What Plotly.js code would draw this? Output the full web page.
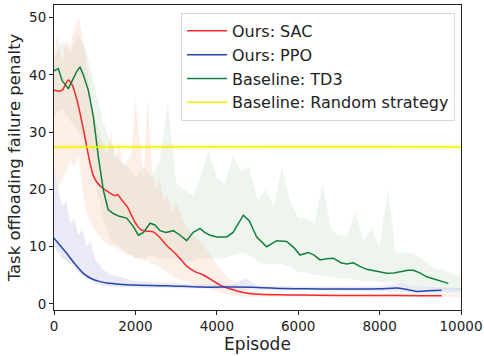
<!DOCTYPE html>
<html>
<head>
<meta charset="utf-8">
<script src="https://cdn.plot.ly/plotly-3.0.1.min.js"></script>
<style>html,body{margin:0;padding:0;background:#fff;}#chart{width:484px;height:356px;}</style>
</head>
<body>
<div id="chart"></div>
<script>
// ---- Data ----
const seriesNames = ["Ours: SAC", "Ours: PPO", "Baseline: TD3", "Baseline: Random strategy"];
const xTickVals = [0,2000,4000,6000,8000,10000];
const xTickText = ["0","2000","4000","6000","8000","10000"];
const yTickVals = [0,10,20,30,40,50];

// Smoothed curves
const sacX = [0,100,200,350,450,550,640,750,870,960,1050,1200,1350,1500,1560,1650,1800,1950,2050,2150,2300,2440,2600,2770,3000,3260,3450,3670,3850,4080,4300,4570,4800,5060,5500,6000,7000,8000,9000,9525];
const sacY = [37.3,37.2,37.3,39.1,38.2,36,33.3,29.5,25.1,22.5,21.3,20.2,19.5,18.9,19.1,18.3,17,14.8,13.6,12.9,12.7,12.6,11.6,10.2,8.7,6.6,5.7,5.06,4.3,3.3,2.7,2.15,1.85,1.7,1.6,1.55,1.5,1.5,1.45,1.45];

const ppoX = [0,150,311,500,721,900,1130,1300,1540,1949,2768,3588,4406,5000,5635,6200,6863,7500,8000,8445,8700,8896,9200,9525];
const ppoY = [11.5,10.2,8.85,7.1,5.35,4.5,3.9,3.65,3.5,3.3,3.2,2.95,2.95,2.9,2.7,2.65,2.6,2.6,2.65,2.8,2.5,2.2,2.3,2.4];

const td3X = [0,106,200,352,450,550,639,720,844,967,1090,1212,1330,1458,1600,1785,1950,2072,2200,2359,2480,2604,2750,2932,3100,3260,3420,3587,3700,3833,4000,4243,4400,4520,4652,4800,4980,5225,5350,5471,5717,5900,6044,6249,6400,6535,6700,6863,7050,7191,7355,7500,7682,7900,8174,8350,8501,8700,8829,9000,9156,9400,9689];
const td3Y = [40.7,41.1,39,37.6,39,40.5,41.4,40,37.3,32.7,25.7,19.9,16.5,15.8,15.3,15.0,13.5,12.0,12.5,14.1,13.8,12.8,12.5,12.8,12,11.05,12.5,13.2,12.5,12.0,11.7,11.7,12.5,14,15.5,14.5,11.7,10.0,10.5,11.05,10.9,9.8,8.55,9.0,8.5,7.7,7.9,8.0,7.2,7.0,7.2,6.6,6.05,5.7,5.35,5.4,5.6,5.9,5.9,5.4,4.75,4.2,3.6];

const randX = [0,2000,4000,6000,8000,10000];
const randY = [27.4,27.45,27.5,27.45,27.45,27.4];

// Raw-episode spread (envelopes of the light background noise)
const sacBandX = [0,100,200,300,400,500,600,700,800,900,1000,1100,1200,1300,1400,1500,1600,1700,1800,1900,2000,2100,2200,2300,2400,2500,2600,2700,2800,2900,3000,3200,3400,3600,3800,4000,4200,4400,4600,4800,5000,6000,7000,8000,9000,10000];
const sacUpper = [44,47,42,46,45,48,50,47,42,36,33,30,28,26,30,25,28,24,25,26,36,29,22,36,24,20,22,18,19,16,18,14,12,11,9,7,5,4,3,2.5,2,1.8,1.8,1.8,1.8,1.8];
const sacLower = [24,20,22,23,25,24,26,20,16,14,13,12,11,10.5,10,10,9.5,9,8.5,8.5,8,8,7.5,7.5,7,7,6.5,6,5.5,5,4.5,4,3.5,3,2.6,2.2,1.8,1.5,1.3,1.2,1.2,1.2,1.2,1.2,1.2,1.2];

const ppoBandX = [0,100,200,300,400,500,600,700,800,900,1000,1200,1400,1600,1800,2000,2500,3000,3500,4000,4400,4700,5000,6000,7000,8000,8500,9000,10000];
const ppoUpper = [24,20,17,18,14,15,12,13,10,11,8,6,5,4.8,4.3,4,3.8,3.6,3.4,3.4,3.3,4.5,3.2,3,3,3.1,3.6,3,2.8];
const ppoLower = [10,9,8,7.5,7,6.5,5.5,5,4.5,4,3.6,3.2,3,3,2.9,2.9,2.8,2.7,2.7,2.7,2.6,2.6,2.5,2.4,2.3,2.3,2.2,2,1.9];

const td3BandX = [0,200,400,600,800,1000,1200,1400,1600,1800,2000,2200,2400,2600,2800,3000,3200,3400,3600,3800,4000,4200,4400,4600,4800,5000,5200,5400,5600,5800,6000,6200,6400,6600,6800,7000,7200,7400,7600,7800,8000,8200,8400,8600,8800,9000,9200,9400,9600,9800,10000];
const td3Upper = [43,46,44,47,44,38,32,28,25,24,22,24,22,25,35,21,20,19,22,27,22,21,26,23,24,18,20,17,24,18,15,15,14,21,13,12,12,16,11,13,10,20,9,9,9,8,7,6,6,5,5];
const td3Lower = [33,34,32,30,28,22,15,11,10,9,8,8,8.5,8,8,8,7.5,7.5,8,8,8,8,8.5,9,8.5,7.5,7,7,7,6.5,5.5,5.5,5,5,4.8,4.5,4.5,4.2,4,4,3.8,3.8,3.6,3.5,3.3,3,2.8,2.6,2.5,2.4,2.4];

const randBandX = [0,10000];
const randUpper = [28.0,28.0];
const randLower = [26.9,26.9];

// ---- Styles ----
const colors = {sac:'#f52a2a', ppo:'#2746ad', td3:'#12803e', rand:'#f2f200'};

function band(x, lo, hi, fillcolor){
  return [
    {x:x, y:lo, type:'scatter', mode:'lines', line:{width:0, color:fillcolor}, showlegend:false, hoverinfo:'skip'},
    {x:x, y:hi, type:'scatter', mode:'lines', line:{width:0, color:fillcolor}, fill:'tonexty', fillcolor:fillcolor, showlegend:false, hoverinfo:'skip'}
  ];
}

const traces = [].concat(
  band(td3BandX, td3Lower, td3Upper, 'rgba(150,190,150,0.16)'),
  band(sacBandX, sacLower, sacUpper, 'rgba(250,170,140,0.2)'),
  band(ppoBandX, ppoLower, ppoUpper, 'rgba(170,170,225,0.25)'),
  band(randBandX, randLower, randUpper, 'rgba(245,245,60,0.18)'),
  [
    {x:sacX, y:sacY, name:seriesNames[0], type:'scatter', mode:'lines', line:{color:colors.sac, width:1.5, shape:'spline', smoothing:0.5}},
    {x:ppoX, y:ppoY, name:seriesNames[1], type:'scatter', mode:'lines', line:{color:colors.ppo, width:1.5, shape:'spline', smoothing:0.6}},
    {x:td3X, y:td3Y, name:seriesNames[2], type:'scatter', mode:'lines', line:{color:colors.td3, width:1.5}},
    {x:randX, y:randY, name:seriesNames[3], type:'scatter', mode:'lines', line:{color:colors.rand, width:1.5}}
  ]
);

const fam = 'DejaVu Sans, sans-serif';

const layout = {
  width:484, height:356,
  margin:{l:54, r:23, t:5, b:46, pad:0},
  paper_bgcolor:'#fff', plot_bgcolor:'#fff',
  font:{size:13, family:fam, color:'#222'},
  showlegend:true,
  xaxis:{
    range:[0,10000], tickmode:'array', tickvals:xTickVals, ticktext:xTickText,
    ticks:'outside', ticklen:4, tickwidth:1, tickcolor:'#222',
    showgrid:false, zeroline:false, showline:true, linecolor:'#222', linewidth:1, mirror:true,
    tickfont:{size:13.5, family:fam, color:'#222'},
    title:{text:'Episode', font:{size:17, family:fam, color:'#222'}, standoff:4}
  },
  yaxis:{
    range:[-1.05,52.2], tickmode:'array', tickvals:yTickVals,
    ticks:'outside', ticklen:4, tickwidth:1, tickcolor:'#222',
    showgrid:false, zeroline:false, showline:true, linecolor:'#222', linewidth:1, mirror:true,
    tickfont:{size:13.5, family:fam, color:'#222'},
    title:{text:'Task offloading failure penalty', font:{size:16.5, family:fam, color:'#222'}, standoff:4}
  },
  legend:{
    x:0.312, y:0.974, xanchor:'left', yanchor:'top', traceorder:'normal',
    bgcolor:'rgba(255,255,255,0.85)', bordercolor:'#d8d8d8', borderwidth:1,
    font:{size:16, family:fam, color:'#222'},
    itemwidth:40, tracegroupgap:0
  }
};

Plotly.newPlot('chart', traces, layout, {staticPlot:true, displayModeBar:false});
</script>
</body>
</html>
